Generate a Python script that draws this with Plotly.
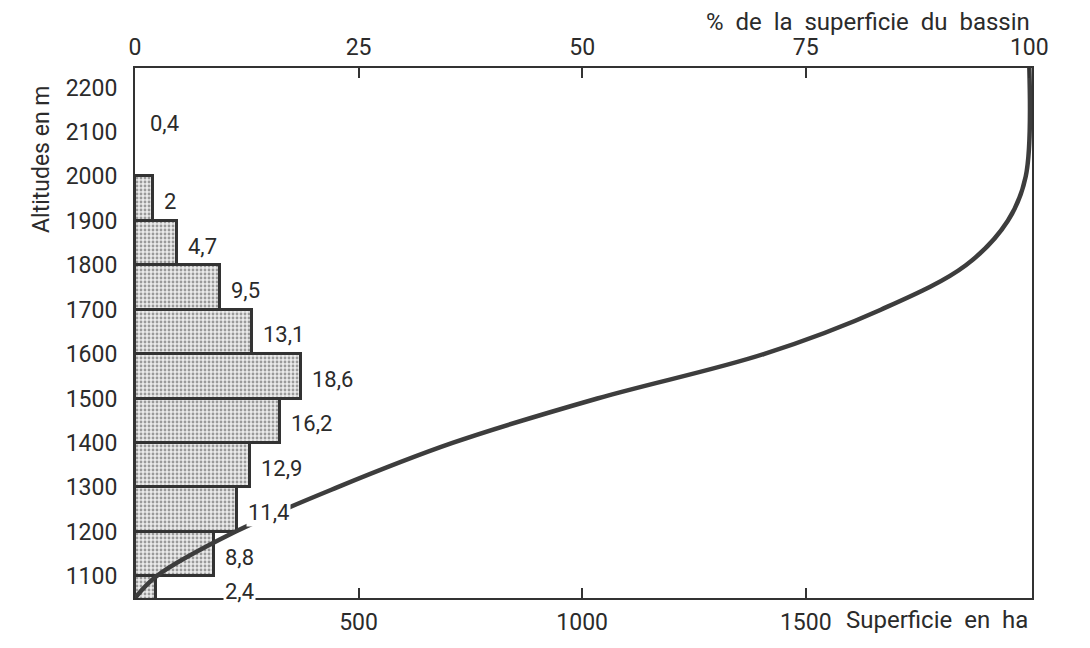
import plotly.graph_objects as go

# --- data ---
band_low = [1000, 1100, 1200, 1300, 1400, 1500, 1600, 1700, 1800, 1900]
band_pct = [2.4, 8.8, 11.4, 12.9, 16.2, 18.6, 13.1, 9.5, 4.7, 2.0]
top_band_pct = 0.4          # band 2000 m -> summit (no visible bar)
top_band_alt = 2120         # label altitude for the top band
summit_alt = 2244
base_alt = 1051

alt_ticks = [1100, 1200, 1300, 1400, 1500, 1600, 1700, 1800, 1900, 2000, 2100, 2200]
pct_ticks = [0, 25, 50, 75, 100]
ha_ticks = [500, 1000, 1500]
total_ha = 2000

FONT = "Roboto"
INK = "#2b2b2b"
SP = "&nbsp;&nbsp;"

# hypsometric curve: cumulative % of area below each altitude
curve_alt = [base_alt] + [lo + 100 for lo in band_low] + [summit_alt]
curve_pct = [0.0]
acc = 0.0
for p in band_pct:
    acc += p
    curve_pct.append(acc)
curve_pct.append(acc + top_band_pct)

band_ha = [p * total_ha / 100 for p in band_pct]

fig = go.Figure()

# bars on the area axis (ha), drawn beneath the curve
fig.add_trace(go.Bar(
    x=band_ha,
    y=[lo + 50 for lo in band_low],
    width=[100] * len(band_low),
    orientation="h",
    xaxis="x", yaxis="y",
    marker=dict(
        color="#e0e0e0",
        line=dict(color="#333333", width=3),
        pattern=dict(shape=".", fgcolor="#4a4a4a", bgcolor="#ebebeb", size=4, solidity=0.4),
    ),
    hoverinfo="skip",
))

# cumulative curve on the % axis (overlay, drawn on top)
fig.add_trace(go.Scatter(
    x=curve_pct, y=curve_alt,
    xaxis="x2", yaxis="y",
    mode="lines",
    line=dict(color="#3d3d3d", width=4.5, shape="spline", smoothing=1.0),
    hoverinfo="skip",
))

def fmt(v):
    s = ("%.1f" % v).rstrip("0").rstrip(".")
    return s.replace(".", ",")

LBL = dict(family=FONT, size=22, color=INK)
annotations = []
for i, (lo, p) in enumerate(zip(band_low, band_pct)):
    anchor = p if i > 0 else band_pct[1]
    yc = lo + 50 if i > 0 else (base_alt + 1100) / 2 - 4
    annotations.append(dict(
        x=anchor, y=yc, xref="x2", yref="y",
        text=fmt(p), showarrow=False, xanchor="left", yanchor="middle",
        xshift=9, yshift=-3, bgcolor="white", borderpad=1, font=LBL,
    ))
annotations.append(dict(
    x=top_band_pct, y=top_band_alt, xref="x2", yref="y",
    text=fmt(top_band_pct), showarrow=False, xanchor="left", yanchor="middle",
    xshift=9, font=LBL,
))
annotations.append(dict(
    x=0, y=2037, xref="paper", yref="y", xshift=-93,
    text="Altitudes en m", textangle=-90, showarrow=False,
    xanchor="center", yanchor="middle",
    font=dict(family=FONT, size=23, color=INK),
))
annotations.append(dict(
    x=1, y=1, xref="paper", yref="paper", xshift=0, yshift=46,
    text="%" + SP + "de" + SP + "la" + SP + "superficie" + SP + "du" + SP + "bassin",
    showarrow=False, xanchor="right", yanchor="middle",
    font=dict(family=FONT, size=24, color=INK),
))
annotations.append(dict(
    x=1, y=0, xref="paper", yref="paper", xshift=-2, yshift=-22,
    text="Superficie" + SP + "en" + SP + "ha", showarrow=False,
    xanchor="right", yanchor="middle",
    font=dict(family=FONT, size=24, color=INK),
))

axis_common = dict(showgrid=False, zeroline=False, showline=True,
                   linecolor="#333333", linewidth=2,
                   tickfont=dict(family=FONT, size=23, color=INK))

fig.update_layout(
    width=1090, height=648,
    margin=dict(l=135, r=58, t=68, b=41),
    plot_bgcolor="white", paper_bgcolor="white",
    showlegend=False, bargap=0,
    annotations=annotations,
    xaxis=dict(range=[0, total_ha * 1.003], tickvals=ha_ticks,
               ticks="inside", ticklen=10, tickwidth=2, tickcolor="#333333",
               ticklabelstandoff=2, **axis_common),
    xaxis2=dict(range=[0, 100.3], overlaying="x", side="top", tickvals=pct_ticks,
                ticks="inside", ticklen=10, tickwidth=2, tickcolor="#333333",
                ticklabelstandoff=2, **axis_common),
    yaxis=dict(range=[base_alt, summit_alt], tickvals=alt_ticks, ticks="",
               mirror=True, ticklabelstandoff=11, **axis_common),
)

fig.write_html("out.html", config={"displayModeBar": False},
               post_script="document.body.style.margin='0';")
